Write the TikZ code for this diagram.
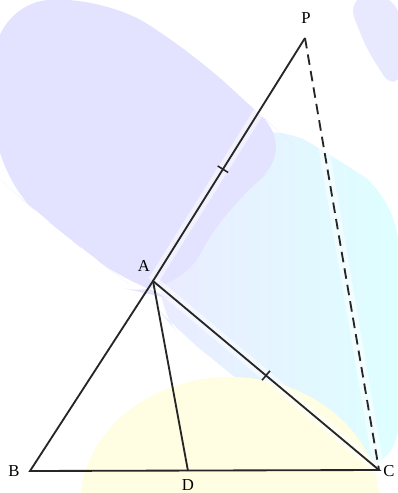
\documentclass[tikz,border=0pt]{standalone}
\usepackage{fontspec}
\setmainfont{Liberation Serif}
\usetikzlibrary{calc}

\tikzset{
  side/.style={line width=1.05pt, black!85},
  halo/.style={line width=6pt, white, opacity=0.55},
  lbl/.style={inner sep=1pt, font=\fontsize{9.5}{11}\selectfont},
  tick/.style={line width=0.9pt, black!85}
}

\begin{document}
\begin{tikzpicture}[x=0.02cm, y=-0.02cm]
  \useasboundingbox (0,0) rectangle (398,493);

  % faint coloured background
  \shade[left color=blue!8, right color=cyan!13, rounded corners=25]
    (150,300) -- (190,160) -- (270,120) -- (340,160) -- (398,200) -- (398,470)
    -- (345,470) -- (290,425) -- (230,372) -- (175,330) -- cycle;
  \fill[blue!11, rounded corners=30]
    (-5,5) -- (100,-5) -- (190,50) -- (260,115) -- (300,150)
    -- (230,200) -- (175,300) -- (140,292) -- (90,255) -- (40,215) -- (-5,175) -- cycle;
  \fill[blue!9, rounded corners=15] (345,-5) -- (400,-5) -- (400,95) -- (372,62) -- cycle;
  \fill[yellow!11] (230,505) ellipse (150 and 128);

  % points
  \coordinate (B) at (30,471);
  \coordinate (D) at (188,471);
  \coordinate (C) at (379,470);
  \coordinate (A) at (153,281);
  \coordinate (P) at (305,38);

  % white halo round the lines
  \draw[halo] (A) -- (P);
  \draw[halo] (A) -- (C);
  \draw[halo] (P) -- (C);

  % triangle and extension
  \draw[side] (B) -- (C) -- (A) -- cycle;
  \draw[side] (A) -- (D);
  \draw[side] (A) -- (P);
  \draw[side, dash pattern=on 6pt off 3.5pt] (P) -- (C);

  % equal marks
  \draw[tick] ($(A)!0.46!(P)!3.5pt!90:(P)$) -- ($(A)!0.46!(P)!3.5pt!-90:(P)$);
  \draw[tick] ($(A)!0.5!(C)!3.5pt!90:(C)$) -- ($(A)!0.5!(C)!3.5pt!-90:(C)$);

  % labels
  \node[lbl] (lP) at (306,18) {P};
  \node[lbl] (lA) at (144,266) {A};
  \node[lbl] (lB) at (14,471) {B};
  \node[lbl] (lD) at (188,485) {D};
  \node[lbl] (lC) at (389,471) {C};
\end{tikzpicture}
\end{document}
